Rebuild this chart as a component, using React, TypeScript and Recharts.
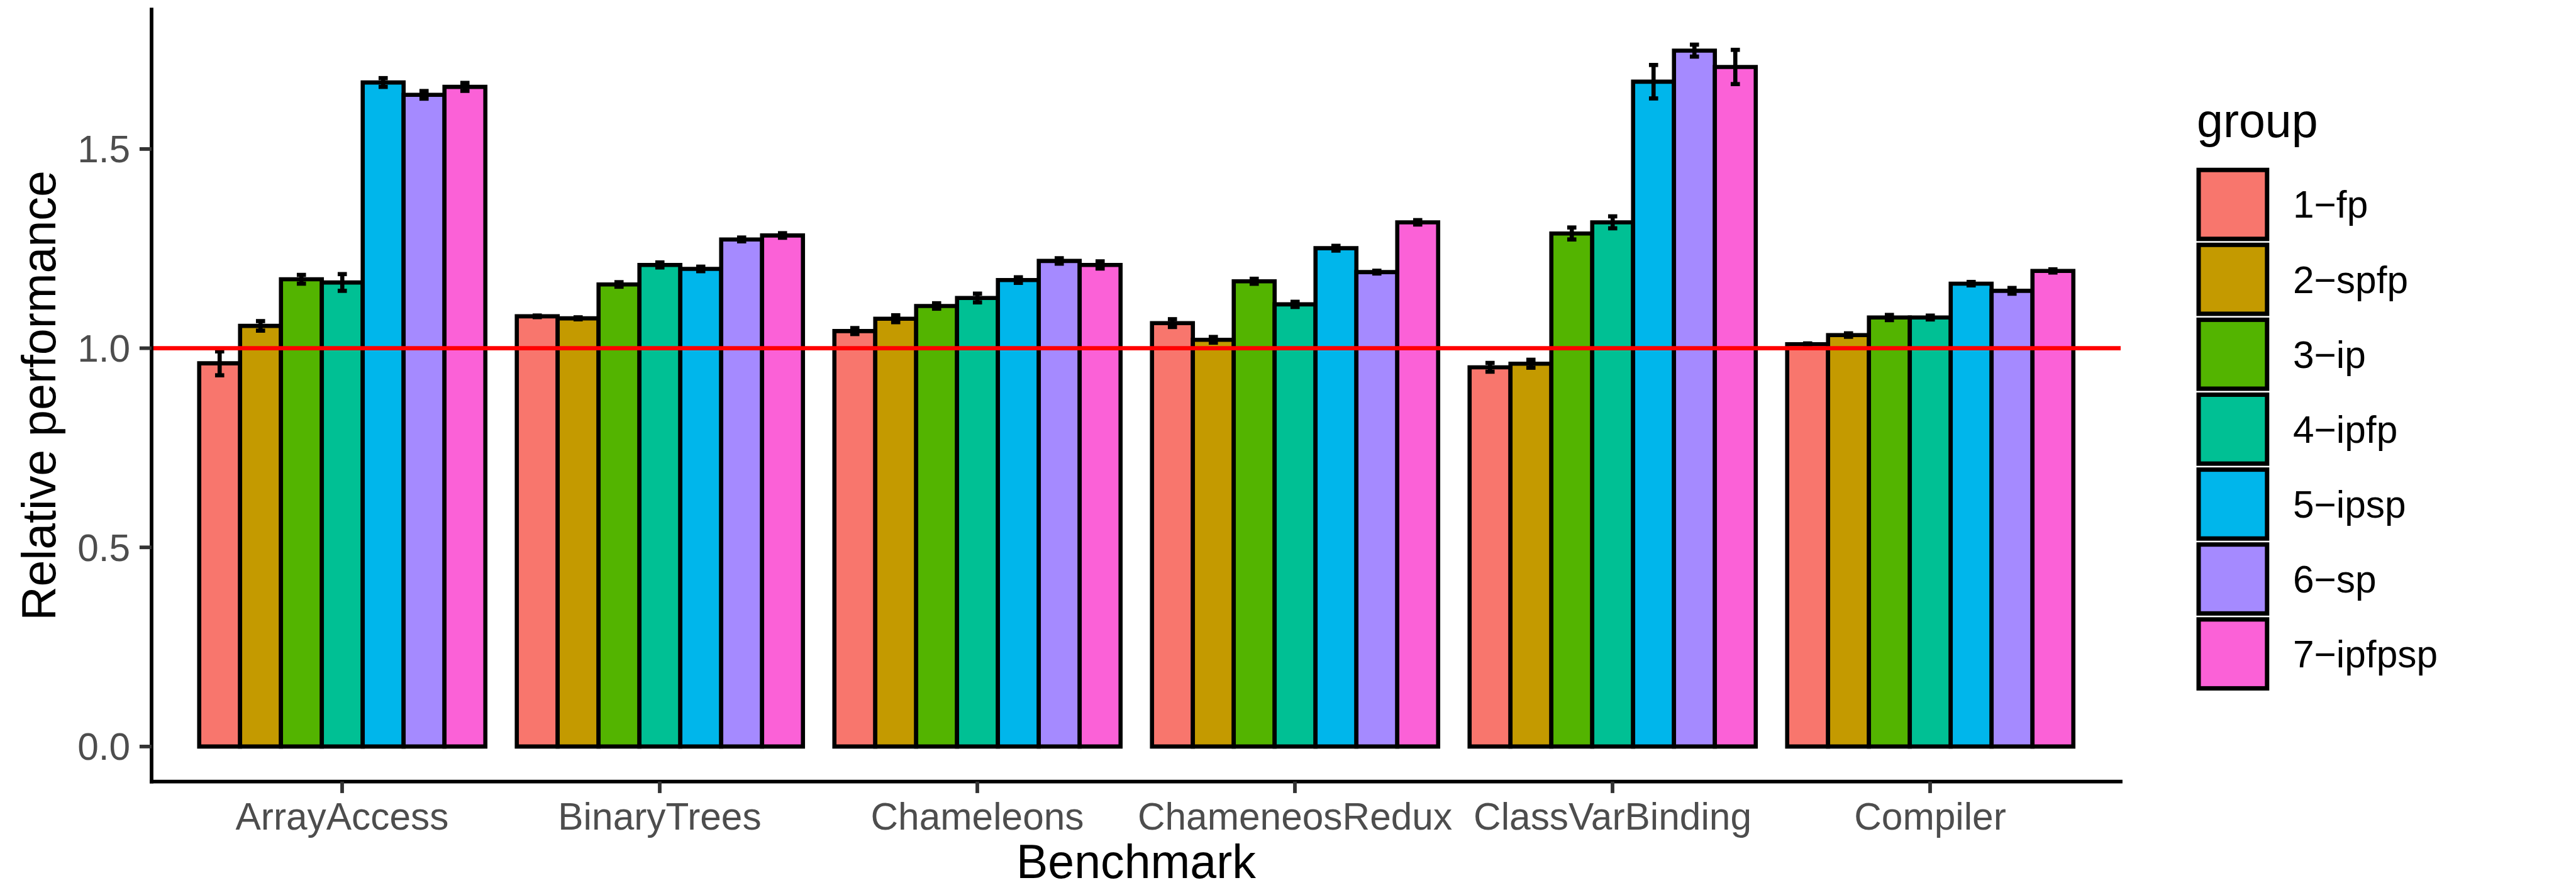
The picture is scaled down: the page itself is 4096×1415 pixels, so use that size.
import React from 'react'
import { BarChart, Bar, XAxis, YAxis, ErrorBar, ReferenceLine } from 'recharts'

const BENCHMARKS = ['ArrayAccess', 'BinaryTrees', 'Chameleons', 'ChameneosRedux', 'ClassVarBinding', 'Compiler']
const GROUPS = ['1-fp', '2-spfp', '3-ip', '4-ipfp', '5-ipsp', '6-sp', '7-ipfpsp']
const COLORS = ['#F8766D', '#C49A00', '#53B400', '#00C094', '#00B6EB', '#A58AFF', '#FB61D7']

// mean relative performance per group, one value per benchmark
const FP = [0.962, 1.080, 1.043, 1.063, 0.952, 1.010]
const SPFP = [1.056, 1.075, 1.074, 1.021, 0.961, 1.033]
const IP = [1.173, 1.160, 1.106, 1.168, 1.288, 1.077]
const IPFP = [1.165, 1.209, 1.126, 1.110, 1.316, 1.077]
const IPSP = [1.667, 1.199, 1.171, 1.251, 1.669, 1.162]
const SP = [1.636, 1.273, 1.219, 1.191, 1.747, 1.144]
const IPFPSP = [1.656, 1.283, 1.209, 1.316, 1.706, 1.194]

// error bar half-lengths
const FP_ERR = [0.030, 0.002, 0.0075, 0.0098, 0.011, 0.002]
const SPFP_ERR = [0.012, 0.0025, 0.0087, 0.0072, 0.010, 0.0043]
const IP_ERR = [0.011, 0.0057, 0.0068, 0.0063, 0.015, 0.0065]
const IPFP_ERR = [0.021, 0.0063, 0.011, 0.0065, 0.015, 0.0048]
const IPSP_ERR = [0.011, 0.0057, 0.007, 0.006, 0.042, 0.0043]
const SP_ERR = [0.0096, 0.0048, 0.0068, 0.0035, 0.015, 0.0072]
const IPFPSP_ERR = [0.010, 0.0057, 0.009, 0.0055, 0.043, 0.004]

const Y_TICKS = [0, 0.5, 1, 1.5]
const BASELINE = 1

const MEANS = [FP, SPFP, IP, IPFP, IPSP, SP, IPFPSP]
const ERRS = [FP_ERR, SPFP_ERR, IP_ERR, IPFP_ERR, IPSP_ERR, SP_ERR, IPFPSP_ERR]

const data = BENCHMARKS.map((name, i) => {
  const row: Record<string, any> = { name }
  GROUPS.forEach((_, j) => {
    row[`g${j}`] = MEANS[j][i]
    row[`e${j}`] = ERRS[j][i]
  })
  return row
})

// ggplot-like 5% expansion of [0, max(ymax)]
const yMax = Math.max(...MEANS.flatMap((m, j) => m.map((v, i) => v + ERRS[j][i])))
const DOMAIN: [number, number] = [-0.05 * yMax, 1.05 * yMax]

const W = 4096
const H = 1415
const FONT = '"Liberation Sans", Arial, Helvetica, sans-serif'
const LW = 6.6

export default function App() {
  return (
    <div style={{ position: 'relative', width: W, height: H, background: '#fff', fontFamily: FONT }}>
      <style>{'body{margin:0}'}</style>
      <BarChart width={W} height={H} data={data}
        margin={{ top: 15.2, right: 724, left: 91, bottom: 52.3 }}
        barCategoryGap="5%" barGap={0}>
        <XAxis dataKey="name" interval={0} height={120}
          padding={{ left: 50.5, right: 50.5 }}
          tickSize={18.2} tickMargin={15.6}
          tick={{ fill: '#4D4D4D', fontSize: 60.4, fontFamily: FONT }}
          axisLine={{ stroke: '#000', strokeWidth: 5.8, strokeLinecap: 'square' }}
          tickLine={{ stroke: '#333', strokeWidth: 5.8 }} />
        <YAxis type="number" domain={DOMAIN} ticks={Y_TICKS} width={150}
          allowDataOverflow
          tickFormatter={(v: number) => v.toFixed(1)}
          tickSize={19.1} tickMargin={14.7}
          tick={{ fill: '#4D4D4D', fontSize: 60.4, fontFamily: FONT }}
          axisLine={{ stroke: '#000', strokeWidth: 5.8, strokeLinecap: 'square' }}
          tickLine={{ stroke: '#333', strokeWidth: 5.8 }} />
        {GROUPS.map((g, j) => (
          <Bar key={g} dataKey={`g${j}`} name={g} fill={COLORS[j]}
            stroke="#000" strokeWidth={LW} isAnimationActive={false}>
            <ErrorBar dataKey={`e${j}`} width={7.3} strokeWidth={LW} stroke="#000" direction="y" />
          </Bar>
        ))}
        <ReferenceLine y={BASELINE} stroke="#FF0000" strokeWidth={LW} />
      </BarChart>

      <svg width={W} height={H} style={{ position: 'absolute', left: 0, top: 0, pointerEvents: 'none' }}>
        <text x={88} y={629} transform="rotate(-90, 88, 629)" textAnchor="middle"
          fontSize={75.3} fontFamily={FONT} fill="#000">Relative performance</text>
        <text x={1806.5} y={1396} textAnchor="middle"
          fontSize={75.3} fontFamily={FONT} fill="#000">Benchmark</text>

        <text x={3493} y={218} fontSize={75.3} fontFamily={FONT} fill="#000">group</text>
        {GROUPS.map((g, j) => {
          const cy = 325 + 119.1 * j
          return (
            <g key={g}>
              <rect x={3496} y={cy - 54.8} width={108.8} height={109.6}
                fill={COLORS[j]} stroke="#000" strokeWidth={7} />
              <text x={3646} y={cy} dy="0.355em" fontSize={60.4} fontFamily={FONT} fill="#000">
                {g.replace('-', '\u2212')}
              </text>
            </g>
          )
        })}
      </svg>
    </div>
  )
}
